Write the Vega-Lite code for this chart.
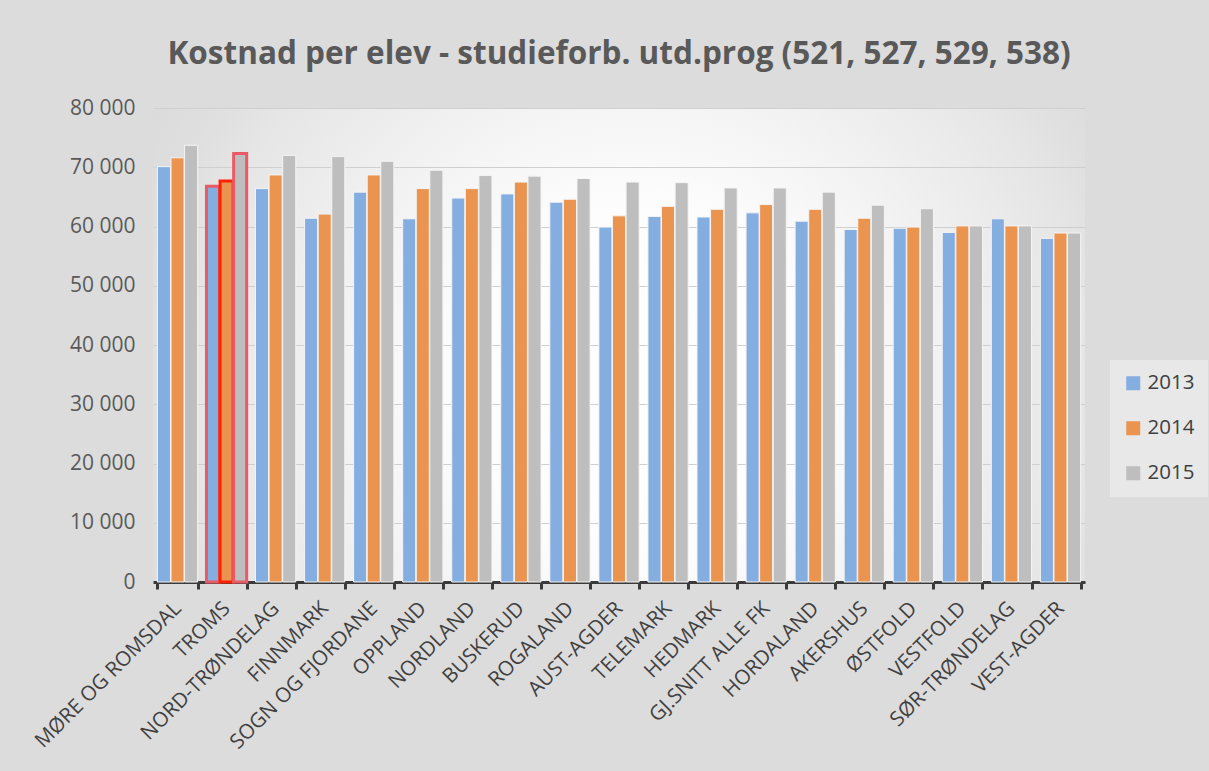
{
  "$schema": "https://vega.github.io/schema/vega-lite/v6.json",
  "width": 932,
  "height": 474,
  "autosize": {"type": "none"},
  "padding": {"left": 153, "top": 108, "right": 124, "bottom": 189},
  "background": "#DCDCDC",
  "title": {
    "text": "Kostnad per elev - studieforb. utd.prog (521, 527, 529, 538)",
    "font": "Open Sans",
    "fontSize": 31.5,
    "fontWeight": "bold",
    "color": "#595959",
    "anchor": "middle",
    "offset": 27
  },
  "config": {
    "view": {
      "stroke": null,
      "fill": {
        "gradient": "radial",
        "x1": 0.52, "y1": 0.54, "r1": 0,
        "x2": 0.52, "y2": 0.54, "r2": 0.62,
        "stops": [
          {"offset": 0, "color": "#FFFFFF"},
          {"offset": 0.3, "color": "#FDFDFD"},
          {"offset": 0.47, "color": "#F5F5F5"},
          {"offset": 0.77, "color": "#E6E6E6"},
          {"offset": 0.85, "color": "#E0E0E0"},
          {"offset": 1, "color": "#D9D9D9"}
        ]
      }
    },
    "font": "Open Sans"
  },
  "data": {
    "values": [
      {"region": "MØRE OG ROMSDAL", "year": "2013", "value": 70100},
      {"region": "MØRE OG ROMSDAL", "year": "2014", "value": 71600},
      {"region": "MØRE OG ROMSDAL", "year": "2015", "value": 73700},
      {"region": "TROMS", "year": "2013", "value": 66800},
      {"region": "TROMS", "year": "2014", "value": 67700},
      {"region": "TROMS", "year": "2015", "value": 72300},
      {"region": "NORD-TRØNDELAG", "year": "2013", "value": 66400},
      {"region": "NORD-TRØNDELAG", "year": "2014", "value": 68700},
      {"region": "NORD-TRØNDELAG", "year": "2015", "value": 72000},
      {"region": "FINNMARK", "year": "2013", "value": 61400},
      {"region": "FINNMARK", "year": "2014", "value": 62100},
      {"region": "FINNMARK", "year": "2015", "value": 71800},
      {"region": "SOGN OG FJORDANE", "year": "2013", "value": 65800},
      {"region": "SOGN OG FJORDANE", "year": "2014", "value": 68700},
      {"region": "SOGN OG FJORDANE", "year": "2015", "value": 71000},
      {"region": "OPPLAND", "year": "2013", "value": 61300},
      {"region": "OPPLAND", "year": "2014", "value": 66400},
      {"region": "OPPLAND", "year": "2015", "value": 69500},
      {"region": "NORDLAND", "year": "2013", "value": 64800},
      {"region": "NORDLAND", "year": "2014", "value": 66400},
      {"region": "NORDLAND", "year": "2015", "value": 68600},
      {"region": "BUSKERUD", "year": "2013", "value": 65500},
      {"region": "BUSKERUD", "year": "2014", "value": 67500},
      {"region": "BUSKERUD", "year": "2015", "value": 68500},
      {"region": "ROGALAND", "year": "2013", "value": 64100},
      {"region": "ROGALAND", "year": "2014", "value": 64600},
      {"region": "ROGALAND", "year": "2015", "value": 68100},
      {"region": "AUST-AGDER", "year": "2013", "value": 59900},
      {"region": "AUST-AGDER", "year": "2014", "value": 61800},
      {"region": "AUST-AGDER", "year": "2015", "value": 67500},
      {"region": "TELEMARK", "year": "2013", "value": 61700},
      {"region": "TELEMARK", "year": "2014", "value": 63400},
      {"region": "TELEMARK", "year": "2015", "value": 67400},
      {"region": "HEDMARK", "year": "2013", "value": 61600},
      {"region": "HEDMARK", "year": "2014", "value": 62900},
      {"region": "HEDMARK", "year": "2015", "value": 66500},
      {"region": "GJ.SNITT ALLE FK", "year": "2013", "value": 62300},
      {"region": "GJ.SNITT ALLE FK", "year": "2014", "value": 63700},
      {"region": "GJ.SNITT ALLE FK", "year": "2015", "value": 66500},
      {"region": "HORDALAND", "year": "2013", "value": 60900},
      {"region": "HORDALAND", "year": "2014", "value": 62900},
      {"region": "HORDALAND", "year": "2015", "value": 65800},
      {"region": "AKERSHUS", "year": "2013", "value": 59500},
      {"region": "AKERSHUS", "year": "2014", "value": 61400},
      {"region": "AKERSHUS", "year": "2015", "value": 63600},
      {"region": "ØSTFOLD", "year": "2013", "value": 59700},
      {"region": "ØSTFOLD", "year": "2014", "value": 59900},
      {"region": "ØSTFOLD", "year": "2015", "value": 63000},
      {"region": "VESTFOLD", "year": "2013", "value": 59000},
      {"region": "VESTFOLD", "year": "2014", "value": 60100},
      {"region": "VESTFOLD", "year": "2015", "value": 60100},
      {"region": "SØR-TRØNDELAG", "year": "2013", "value": 61300},
      {"region": "SØR-TRØNDELAG", "year": "2014", "value": 60100},
      {"region": "SØR-TRØNDELAG", "year": "2015", "value": 60100},
      {"region": "VEST-AGDER", "year": "2013", "value": 58000},
      {"region": "VEST-AGDER", "year": "2014", "value": 58900},
      {"region": "VEST-AGDER", "year": "2015", "value": 58900}
    ]
  },
  "mark": {"type": "bar", "strokeWidth": 1},
  "encoding": {
    "x": {
      "field": "region",
      "type": "nominal",
      "sort": null,
      "scale": {"paddingInner": 0.18, "paddingOuter": 0.09},
      "axis": {
        "title": null,
        "labelAngle": -45,
        "labelAlign": "right",
        "labelBaseline": "middle",
        "labelFontSize": 20.5,
        "labelColor": "#404040",
        "labelPadding": 16,
        "labelLimit": 0,
        "domainColor": "#3A3A3A",
        "domainWidth": 3,
        "tickColor": "#3A3A3A",
        "tickWidth": 3,
        "tickSize": 7,
        "tickBand": "extent",
        "grid": false
      }
    },
    "xOffset": {
      "field": "year",
      "type": "nominal",
      "scale": {"paddingInner": 0.04}
    },
    "y": {
      "field": "value",
      "type": "quantitative",
      "scale": {"domain": [0, 80000], "nice": false},
      "axis": {
        "title": null,
        "values": [0, 10000, 20000, 30000, 40000, 50000, 60000, 70000, 80000],
        "labelExpr": "replace(format(datum.value, ','), ',', ' ')",
        "labelFontSize": 21,
        "labelColor": "#595959",
        "labelPadding": 18,
        "domain": false,
        "ticks": false,
        "gridColor": "#CFCFCF",
        "gridWidth": 1.2
      }
    },
    "color": {
      "field": "year",
      "type": "nominal",
      "scale": {"domain": ["2013", "2014", "2015"], "range": ["#84ADE0", "#EA9450", "#BEBEBE"]},
      "legend": {
        "title": null,
        "orient": "none",
        "legendX": 957,
        "legendY": 252,
        "symbolType": "square",
        "symbolSize": 196,
        "symbolStrokeWidth": 0,
        "labelFontSize": 20.5,
        "labelColor": "#404040",
        "rowPadding": 24,
        "labelOffset": 4,
        "fillColor": "#E8E8E8",
        "padding": 13
      }
    },
    "stroke": {
      "condition": [
        {"test": "datum.region === 'TROMS' && datum.year === '2014'", "value": "#FF2200"},
        {"test": "datum.region === 'TROMS'", "value": "#E85A66"}
      ],
      "value": "#F4F4F4"
    },
    "strokeWidth": {
      "condition": {"test": "datum.region === 'TROMS'", "value": 3},
      "value": 1
    }
  }
}
